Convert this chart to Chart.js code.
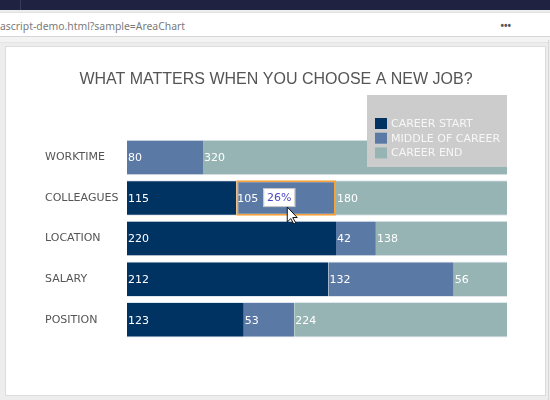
<!DOCTYPE html>
<html>
<head>
<meta charset="utf-8">
<script src="https://cdn.jsdelivr.net/npm/chart.js@4.4.0/dist/chart.umd.min.js"></script>
<style>
    body { margin: 0; width: 550px; height: 400px; overflow: hidden; background: #ededed; position: relative; font-family: "Noto Sans", sans-serif; }
    #topbar { position: absolute; left: 0; top: 0; width: 550px; height: 10px; background: #1f2241; }
    #topbar .sep { position: absolute; left: 20px; top: 0; width: 1px; height: 10px; background: #3a3d5a; }
    #addr { position: absolute; left: 0; top: 12px; width: 550px; height: 23px; background: #fff; border-top: 1px solid #e2e2e2; border-bottom: 1px solid #d6d6d6; }
    #addr .url { position: absolute; left: 0; top: 6px; font-size: 10.4px; color: #7a7a7a; white-space: nowrap; }
    #addr .dots { position: absolute; left: 500px; top: 4px; font-size: 12px; color: #555; letter-spacing: -1px; }
    #strip { position: absolute; left: 0; top: 37px; width: 550px; height: 5px; background: #f3f3f3; border-bottom: 1px solid #e4e4e4; }
    #panel { position: absolute; left: 5px; top: 46px; width: 539px; height: 348px; background: #fff; border: 1px solid #dcdcdc; }
    #edge { position: absolute; left: 548px; top: 40px; width: 1px; height: 360px; background: #d8d8d8; }
    #chart { position: absolute; left: 0; top: 0; }
</style>
</head>
<body>
<div id="topbar"><div class="sep"></div></div>
<div id="addr"><span class="url">ascript-demo.html?sample=AreaChart</span><span class="dots">&#8226;&#8226;&#8226;</span></div>
<div id="strip"></div>
<div id="panel"></div>
<div id="edge"></div>
<canvas id="chart" width="550" height="400"></canvas>

<script>
//DATOS DEL GRAFICO
var categorias = ["WORKTIME", "COLLEAGUES", "LOCATION", "SALARY", "POSITION"];
var seriesNombres = ["CAREER START", "MIDDLE OF CAREER", "CAREER END"];
var careerStart = [0, 115, 220, 212, 123];
var middleCareer = [80, 105, 42, 132, 53];
var careerEnd = [320, 180, 138, 56, 224];
var colores = ["#003262", "#5b79a5", "#97b4b4"];

//SEGMENTO CON EL MOUSE ENCIMA (SERIE, CATEGORIA)
var hoverSerie = 1;
var hoverCat = 1;

var etiquetaFont = "11px 'DejaVu Sans', Verdana, sans-serif";

function esHover(ctx) {
    return ctx.datasetIndex == hoverSerie && ctx.dataIndex == hoverCat;
}

//DIBUJA LOS VALORES DENTRO DE CADA BARRA
var valoresPlugin = {
    id: "valores",
    afterDatasetsDraw: function (chart) {
        var c = chart.ctx;
        c.save();
        c.font = etiquetaFont;
        c.fillStyle = "#ffffff";
        c.textAlign = "left";
        c.textBaseline = "middle";
        chart.data.datasets.forEach(function (ds, i) {
            var meta = chart.getDatasetMeta(i);
            meta.data.forEach(function (el, j) {
                var v = ds.data[j];
                if (v > 0) {
                    c.fillText(v, Math.min(el.base, el.x) + 1, el.y + 1);
                }
            });
        });
        c.restore();
    }
};

//LEYENDA EN CAJA GRIS
var leyendaPlugin = {
    id: "leyendaGris",
    afterDraw: function (chart) {
        var c = chart.ctx;
        var right = chart.chartArea.right;
        var x0 = right - 140, y0 = 95;
        c.save();
        c.fillStyle = "#cccccc";
        c.fillRect(x0, y0, 140, 72);
        c.font = etiquetaFont;
        c.textAlign = "left";
        c.textBaseline = "middle";
        chart.data.datasets.forEach(function (ds, i) {
            var y = y0 + 29 + i * 14.7;
            c.fillStyle = ds.backgroundColor;
            c.fillRect(x0 + 8, y - 6, 12, 11);
            c.fillStyle = "#f7f7f7";
            c.fillText(ds.label, x0 + 24, y);
        });
        c.restore();
    }
};

//TOOLTIP CON EL PORCENTAJE DEL SEGMENTO
var tooltipPlugin = {
    id: "porcentaje",
    afterDraw: function (chart) {
        var el = chart.getDatasetMeta(hoverSerie).data[hoverCat];
        var total = 0;
        chart.data.datasets.forEach(function (ds) { total += ds.data[hoverCat]; });
        var pct = Math.round(chart.data.datasets[hoverSerie].data[hoverCat] / total * 100) + "%";
        var c = chart.ctx;
        var bx = Math.min(el.base, el.x) + 27, by = el.y - 10;
        c.save();
        c.fillStyle = "#ffffff";
        c.strokeStyle = "#c4c4c4";
        c.lineWidth = 1;
        c.fillRect(bx, by, 32, 19);
        c.strokeRect(bx + 0.5, by + 0.5, 31, 18);
        c.font = etiquetaFont;
        c.fillStyle = "#4a4ac4";
        c.textAlign = "center";
        c.textBaseline = "middle";
        c.fillText(pct, bx + 16, by + 10);

        //PUNTERO DEL MOUSE
        var mx = bx + 24, my = by + 19;
        c.beginPath();
        c.moveTo(mx, my);
        c.lineTo(mx, my + 15);
        c.lineTo(mx + 3.5, my + 11.5);
        c.lineTo(mx + 6.5, my + 17);
        c.lineTo(mx + 8.5, my + 16);
        c.lineTo(mx + 5.5, my + 10.5);
        c.lineTo(mx + 10, my + 10.5);
        c.closePath();
        c.fillStyle = "#ffffff";
        c.fill();
        c.strokeStyle = "#111111";
        c.stroke();
        c.restore();
    }
};

var datos = [careerStart, middleCareer, careerEnd];
var datasets = [];
for (var i = 0; i < datos.length; i++) {
    datasets.push({
        label: seriesNombres[i],
        data: datos[i],
        backgroundColor: colores[i],
        borderColor: function (ctx) { return esHover(ctx) ? "#f5a23a" : "#dfe6ee"; },
        borderWidth: function (ctx) {
            return esHover(ctx) ? 2 : { top: 1, bottom: 1, left: 0, right: 0 };
        },
        borderSkipped: false,
        barPercentage: 0.876,
        categoryPercentage: 1
    });
}

var ctx = document.getElementById("chart").getContext("2d");
new Chart(ctx, {
    type: "bar",
    data: { labels: categorias, datasets: datasets },
    options: {
        indexAxis: "y",
        responsive: false,
        animation: false,
        layout: { padding: { left: 45, right: 43, top: 0, bottom: 60 } },
        plugins: {
            title: {
                display: true,
                text: "WHAT MATTERS WHEN YOU CHOOSE A NEW JOB?",
                color: "#555555",
                font: { family: "'Liberation Sans', Arial, sans-serif", size: 16, weight: "normal" },
                padding: { top: 70, bottom: 48 }
            },
            legend: { display: false },
            tooltip: { enabled: false }
        },
        scales: {
            x: { stacked: true, min: 0, max: 400, display: false },
            y: {
                stacked: true,
                grid: { display: false },
                border: { display: false },
                ticks: {
                    color: "#555555",
                    font: { family: "'DejaVu Sans', Verdana, sans-serif", size: 11 },
                    crossAlign: "far",
                    padding: 0
                },
                afterFit: function (scale) { scale.width = 82; }
            }
        }
    },
    plugins: [valoresPlugin, leyendaPlugin, tooltipPlugin]
});
</script>
</body>
</html>
